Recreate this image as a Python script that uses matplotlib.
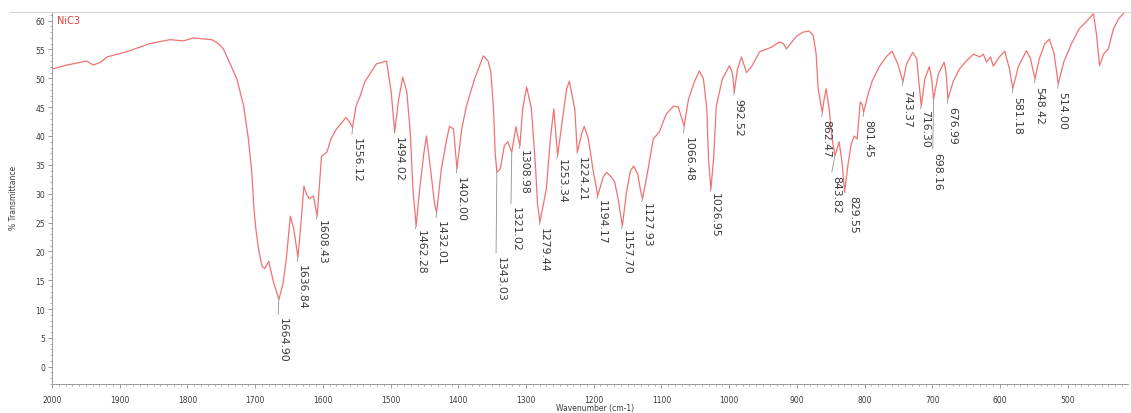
import matplotlib
matplotlib.use("Agg")
import matplotlib.pyplot as plt
from matplotlib.lines import Line2D
from matplotlib.ticker import MultipleLocator
import numpy as np

# ── spectrum data (wavenumber in cm-1, % transmittance) ──────────────────────
# baseline / shoulder points between labelled bands
trace_wn = [
    2000, 1978, 1949, 1939, 1928, 1919, 1890, 1856, 1826, 1806, 1791, 1772,
    1764, 1754, 1747, 1738, 1727, 1717, 1710, 1705, 1702, 1699, 1695, 1690,
    1686, 1680, 1673,
    1659, 1654, 1648, 1643,
    1633, 1628, 1624, 1620, 1614,
    1602, 1594, 1588, 1580, 1566, 1561,
    1551, 1545, 1538, 1521, 1506, 1499,
    1488, 1482, 1476, 1471, 1467,
    1457, 1451, 1447, 1441, 1435,
    1425, 1417, 1413, 1407,
    1395, 1388, 1376, 1363, 1356, 1352, 1348, 1345.5,
    1338, 1332, 1327,
    1315,
    1305, 1299, 1292, 1286, 1283,
    1270, 1264, 1259, 1256,
    1246, 1240, 1236, 1228,
    1218, 1214, 1208, 1200, 1196.5,
    1186, 1181, 1174, 1169, 1164,
    1152, 1146, 1141, 1135, 1130.5,
    1121, 1112, 1103, 1093, 1082, 1075,
    1060, 1051, 1044, 1038, 1033, 1030.5,
    1023, 1019, 1010, 999.5, 995,
    987.7, 981.8, 974.4, 967, 955, 937.5, 925.7, 919.8, 915.4, 908, 900.6,
    891, 882, 876, 871.5, 868.6,
    859.7, 856.8, 852.3, 847.9,
    837.6, 833,
    824.3, 819.8, 815.4, 811, 806.5, 803.6,
    794.7, 788.8, 778.5, 766.7, 759.3, 751,
    738, 729, 723, 719.5,
    711, 704.5, 701,
    691, 682.5, 679.5,
    669, 660, 650, 639, 630, 624.5, 620, 614, 610, 601, 593, 586,
    573, 561, 555,
    542, 534, 527, 520,
    506, 494.5, 483, 472, 462, 457.6, 453, 447, 440, 432.5, 425, 416, 408,
]
trace_t = [
    51.6, 52.3, 53.0, 52.3, 52.8, 53.7, 54.6, 56.0, 56.7, 56.5, 57.0, 56.8,
    56.7, 56.0, 55.1, 52.8, 49.9, 45.2, 39.5, 33.7, 27.8, 23.9, 20.4, 17.5,
    17.0, 18.3, 14.7,
    14.3, 18.7, 26.1, 23.9,
    23.9, 31.3, 29.9, 29.1, 29.6,
    36.5, 37.2, 39.5, 41.2, 43.2, 42.5,
    45.2, 46.9, 49.4, 52.5, 53.0, 47.6,
    46.4, 50.2, 47.6, 40.7, 30.8,
    30.8, 36.9, 40.0, 34.3, 28.2,
    34.3, 39.5, 41.7, 41.2,
    41.2, 45.2, 49.9, 53.9, 53.0, 51.1, 44.7, 37.0,
    34.3, 38.3, 39.0,
    41.6,
    44.7, 48.5, 44.7, 34.8, 28.2,
    30.8, 39.5, 44.7, 40.3,
    43.0, 48.2, 49.5, 44.7,
    40.3, 41.7, 39.5, 33.4, 31.3,
    32.9, 33.7, 32.9, 32.0, 29.1,
    29.9, 33.9, 34.8, 33.4, 30.3,
    33.4, 39.5, 40.7, 43.8, 45.2, 45.0,
    46.4, 49.5, 51.3, 49.9, 44.7, 36.0,
    36.0, 45.2, 49.9, 52.2, 50.8,
    51.6, 53.7, 51.0, 52.0, 54.6, 55.4, 56.3, 56.0, 55.1, 56.2, 57.3,
    58.0, 58.2, 57.5, 54.2, 48.2,
    46.4, 48.2, 44.7, 39.5,
    39.0, 35.2,
    35.2, 38.6, 40.0, 39.5, 45.9, 45.5,
    47.3, 49.5, 52.0, 53.9, 54.7, 52.5,
    52.5, 54.5, 53.4, 49.0,
    49.9, 52.0, 49.9,
    50.8, 52.8, 50.8,
    49.5, 51.6, 53.0, 54.2, 53.7, 54.2, 52.8, 53.7, 52.1, 53.7, 54.7, 51.6,
    52.0, 54.8, 53.4,
    53.4, 56.0, 56.8, 54.2,
    52.8, 56.0, 58.6, 59.9, 61.2, 57.7, 52.2, 54.2, 55.1, 58.6, 60.3, 61.5, 62.0,
]

# labelled band minima
peak_wn = [
    1664.90, 1636.84, 1608.43, 1556.12, 1494.02, 1462.28, 1432.01, 1402.00,
    1343.03, 1321.02, 1308.98, 1279.44, 1253.34, 1224.21, 1194.17, 1157.70,
    1127.93, 1066.48, 1026.95, 992.52, 862.47, 843.82, 829.55, 801.45,
    743.37, 716.30, 698.16, 676.99, 581.18, 548.42, 514.00,
]
peak_t = [
    11.7, 19.0, 26.1, 41.5, 40.7, 24.4, 26.8, 34.3,
    33.7, 37.2, 38.3, 25.1, 36.6, 37.2, 29.6, 24.4,
    29.1, 41.7, 30.8, 47.6, 44.1, 36.6, 30.3, 44.1,
    49.4, 45.2, 46.4, 46.4, 48.2, 49.9, 49.0,
]
# label placement: drop below the minimum and sideways nudge, in points
label_gap = [
    13, 5, 2, 7, 3, 2, 6, 5,
    60, 39, 2, 4, 2, 3, 2, 2,
    2, 7, 2, 4, 5, 14, 2, 5,
    5, 2, 38, 5, 5, 5, 5,
]
label_dx = [
    3, 3, 3, 3, 3, 3, 3, 3,
    3, 3, 3, 3, 3, 3, 3, 3,
    3, 3, 3, 3, 3, 1, 6, 3,
    3, 3, 3, 3, 3, 3, 3,
]

LINE = "#f07272"
AXIS = "#8c8c8c"
TEXT = "#3a3a3a"

wn = np.array(trace_wn + peak_wn)
tr = np.array(trace_t + peak_t)
order = np.argsort(-wn)
wn, tr = wn[order], tr[order]

fig = plt.figure(figsize=(11.31, 4.14), dpi=100)
ax = fig.add_axes([52 / 1131, 29 / 414, 1076 / 1131, 372 / 414])

ax.plot(wn, tr, color=LINE, lw=0.9)
ax.set_xlim(2000, 411)
ax.set_ylim(-3, 61.5)

ax.xaxis.set_minor_locator(MultipleLocator(10))
ax.yaxis.set_minor_locator(MultipleLocator(1))
ax.set_xticks(np.arange(2000, 499, -100))
ax.set_yticks(np.arange(0, 61, 5))
ax.tick_params(which="major", length=3, width=0.6, color=AXIS, labelsize=5.5,
               labelcolor=TEXT, pad=2)
ax.tick_params(which="minor", length=1.5, width=0.5, color=AXIS)
ax.tick_params(axis="x", which="major", pad=5)
for side in ("top", "right"):
    ax.spines[side].set_visible(False)
for side in ("left", "bottom"):
    ax.spines[side].set_color(AXIS)
    ax.spines[side].set_linewidth(0.6)

for w, t, gap, dx in zip(peak_wn, peak_t, label_gap, label_dx):
    ax.annotate(f"{w:.2f}", xy=(w, t), xytext=(dx, -gap),
                textcoords="offset points", rotation=270, ha="center", va="top",
                fontsize=7.8, color=TEXT,
                arrowprops=dict(arrowstyle="-", color="#909090", lw=0.6,
                                shrinkA=0, shrinkB=0, relpos=(0, 1)))

# frame line across the top of the panel
fig.add_artist(Line2D([10 / 1131, 1.0], [1 - 13 / 414, 1 - 13 / 414],
                      transform=fig.transFigure, color="#d6d6d6", lw=0.8))

fig.text(57 / 1131, 1 - 21 / 414, "NiC3", color="#e23a3a", fontsize=7,
         va="center", ha="left")
fig.text(14 / 1131, 1 - 198 / 414, "% Transmittance", rotation=90,
         ha="center", va="center", fontsize=5.5, color=TEXT)
fig.text(595 / 1131, 5 / 414, "Wavenumber (cm-1)", ha="center", va="center",
         fontsize=5.5, color=TEXT)

fig.savefig("out.png", dpi=100, facecolor="white")
